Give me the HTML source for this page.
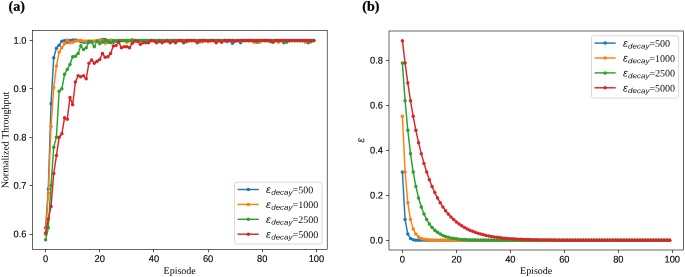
<!DOCTYPE html>
<html><head><meta charset="utf-8"><style>
html,body{margin:0;padding:0;background:#fff;}
svg{display:block;will-change:transform;}
.tk{font-family:"Liberation Sans",sans-serif;font-size:9.30px;fill:#000;stroke:#000;stroke-width:0.12px;}
.lab{font-family:"Liberation Serif",serif;font-size:10px;fill:#000;}
.ttl{font-family:"Liberation Serif",serif;font-size:14px;font-weight:bold;fill:#000;stroke:#000;stroke-width:0.25px;}
.eps{font-family:"Liberation Sans",sans-serif;font-style:italic;font-size:10.5px;fill:#111;}
.epsl{font-family:"Liberation Sans",sans-serif;font-style:italic;font-size:11px;fill:#111;}
.sub{font-family:"Liberation Sans",sans-serif;font-style:italic;font-size:7.2px;fill:#111;}
.lg{font-family:"Liberation Serif",serif;font-size:10px;fill:#111;}
</style></head><body>
<svg width="685" height="277" viewBox="0 0 685 277">
<rect width="685" height="277" fill="#fff"/>
<polyline points="45.60,227.71 48.31,188.99 51.02,103.80 53.72,57.82 56.43,48.14 59.14,45.24 61.85,41.37 64.56,40.40 67.26,42.34 69.97,40.40 72.68,39.92 75.39,39.92 78.10,40.40 80.80,41.85 83.51,42.34 86.22,42.34 88.93,42.34 91.64,41.85 94.34,41.37 97.05,40.88 99.76,40.40 102.47,39.43 105.18,39.43 107.88,42.34 110.59,42.34 113.30,42.34 116.01,40.40 118.72,40.40 121.42,40.40 124.13,40.40 126.84,41.37 129.55,40.40 132.26,40.40 134.96,40.40 137.67,40.40 140.38,40.40 143.09,40.40 145.80,40.40 148.50,40.40 151.21,40.40 153.92,40.40 156.63,41.37 159.34,40.40 162.04,40.40 164.75,40.40 167.46,40.40 170.17,40.40 172.88,40.40 175.58,40.40 178.29,40.40 181.00,40.40 183.71,40.40 186.42,41.85 189.12,40.40 191.83,40.40 194.54,40.40 197.25,40.40 199.96,41.85 202.66,40.40 205.37,40.40 208.08,40.40 210.79,40.40 213.50,40.40 216.20,40.40 218.91,40.40 221.62,40.40 224.33,40.40 227.04,41.85 229.74,40.40 232.45,43.30 235.16,40.40 237.87,40.40 240.58,42.82 243.28,40.40 245.99,40.40 248.70,40.40 251.41,40.40 254.12,40.40 256.82,40.40 259.53,40.40 262.24,40.40 264.95,40.40 267.66,40.40 270.36,40.40 273.07,40.40 275.78,40.40 278.49,40.40 281.20,40.40 283.90,42.82 286.61,40.40 289.32,40.40 292.03,40.40 294.74,40.40 297.44,40.40 300.15,40.40 302.86,40.40 305.57,40.40 308.28,42.82 310.98,40.40 313.69,40.40" fill="none" stroke="#1f77b4" stroke-width="1.45" stroke-linejoin="round"/>
<g fill="#1f77b4"><circle cx="45.60" cy="227.71" r="1.75"/><circle cx="48.31" cy="188.99" r="1.75"/><circle cx="51.02" cy="103.80" r="1.75"/><circle cx="53.72" cy="57.82" r="1.75"/><circle cx="56.43" cy="48.14" r="1.75"/><circle cx="59.14" cy="45.24" r="1.75"/><circle cx="61.85" cy="41.37" r="1.75"/><circle cx="64.56" cy="40.40" r="1.75"/><circle cx="67.26" cy="42.34" r="1.75"/><circle cx="69.97" cy="40.40" r="1.75"/><circle cx="72.68" cy="39.92" r="1.75"/><circle cx="75.39" cy="39.92" r="1.75"/><circle cx="78.10" cy="40.40" r="1.75"/><circle cx="80.80" cy="41.85" r="1.75"/><circle cx="83.51" cy="42.34" r="1.75"/><circle cx="86.22" cy="42.34" r="1.75"/><circle cx="88.93" cy="42.34" r="1.75"/><circle cx="91.64" cy="41.85" r="1.75"/><circle cx="94.34" cy="41.37" r="1.75"/><circle cx="97.05" cy="40.88" r="1.75"/><circle cx="99.76" cy="40.40" r="1.75"/><circle cx="102.47" cy="39.43" r="1.75"/><circle cx="105.18" cy="39.43" r="1.75"/><circle cx="107.88" cy="42.34" r="1.75"/><circle cx="110.59" cy="42.34" r="1.75"/><circle cx="113.30" cy="42.34" r="1.75"/><circle cx="116.01" cy="40.40" r="1.75"/><circle cx="118.72" cy="40.40" r="1.75"/><circle cx="121.42" cy="40.40" r="1.75"/><circle cx="124.13" cy="40.40" r="1.75"/><circle cx="126.84" cy="41.37" r="1.75"/><circle cx="129.55" cy="40.40" r="1.75"/><circle cx="132.26" cy="40.40" r="1.75"/><circle cx="134.96" cy="40.40" r="1.75"/><circle cx="137.67" cy="40.40" r="1.75"/><circle cx="140.38" cy="40.40" r="1.75"/><circle cx="143.09" cy="40.40" r="1.75"/><circle cx="145.80" cy="40.40" r="1.75"/><circle cx="148.50" cy="40.40" r="1.75"/><circle cx="151.21" cy="40.40" r="1.75"/><circle cx="153.92" cy="40.40" r="1.75"/><circle cx="156.63" cy="41.37" r="1.75"/><circle cx="159.34" cy="40.40" r="1.75"/><circle cx="162.04" cy="40.40" r="1.75"/><circle cx="164.75" cy="40.40" r="1.75"/><circle cx="167.46" cy="40.40" r="1.75"/><circle cx="170.17" cy="40.40" r="1.75"/><circle cx="172.88" cy="40.40" r="1.75"/><circle cx="175.58" cy="40.40" r="1.75"/><circle cx="178.29" cy="40.40" r="1.75"/><circle cx="181.00" cy="40.40" r="1.75"/><circle cx="183.71" cy="40.40" r="1.75"/><circle cx="186.42" cy="41.85" r="1.75"/><circle cx="189.12" cy="40.40" r="1.75"/><circle cx="191.83" cy="40.40" r="1.75"/><circle cx="194.54" cy="40.40" r="1.75"/><circle cx="197.25" cy="40.40" r="1.75"/><circle cx="199.96" cy="41.85" r="1.75"/><circle cx="202.66" cy="40.40" r="1.75"/><circle cx="205.37" cy="40.40" r="1.75"/><circle cx="208.08" cy="40.40" r="1.75"/><circle cx="210.79" cy="40.40" r="1.75"/><circle cx="213.50" cy="40.40" r="1.75"/><circle cx="216.20" cy="40.40" r="1.75"/><circle cx="218.91" cy="40.40" r="1.75"/><circle cx="221.62" cy="40.40" r="1.75"/><circle cx="224.33" cy="40.40" r="1.75"/><circle cx="227.04" cy="41.85" r="1.75"/><circle cx="229.74" cy="40.40" r="1.75"/><circle cx="232.45" cy="43.30" r="1.75"/><circle cx="235.16" cy="40.40" r="1.75"/><circle cx="237.87" cy="40.40" r="1.75"/><circle cx="240.58" cy="42.82" r="1.75"/><circle cx="243.28" cy="40.40" r="1.75"/><circle cx="245.99" cy="40.40" r="1.75"/><circle cx="248.70" cy="40.40" r="1.75"/><circle cx="251.41" cy="40.40" r="1.75"/><circle cx="254.12" cy="40.40" r="1.75"/><circle cx="256.82" cy="40.40" r="1.75"/><circle cx="259.53" cy="40.40" r="1.75"/><circle cx="262.24" cy="40.40" r="1.75"/><circle cx="264.95" cy="40.40" r="1.75"/><circle cx="267.66" cy="40.40" r="1.75"/><circle cx="270.36" cy="40.40" r="1.75"/><circle cx="273.07" cy="40.40" r="1.75"/><circle cx="275.78" cy="40.40" r="1.75"/><circle cx="278.49" cy="40.40" r="1.75"/><circle cx="281.20" cy="40.40" r="1.75"/><circle cx="283.90" cy="42.82" r="1.75"/><circle cx="286.61" cy="40.40" r="1.75"/><circle cx="289.32" cy="40.40" r="1.75"/><circle cx="292.03" cy="40.40" r="1.75"/><circle cx="294.74" cy="40.40" r="1.75"/><circle cx="297.44" cy="40.40" r="1.75"/><circle cx="300.15" cy="40.40" r="1.75"/><circle cx="302.86" cy="40.40" r="1.75"/><circle cx="305.57" cy="40.40" r="1.75"/><circle cx="308.28" cy="42.82" r="1.75"/><circle cx="310.98" cy="40.40" r="1.75"/><circle cx="313.69" cy="40.40" r="1.75"/></g>
<polyline points="45.60,234.48 48.31,193.34 51.02,126.55 53.72,87.83 56.43,66.05 59.14,52.02 61.85,47.66 64.56,43.79 67.26,39.92 69.97,42.82 72.68,42.34 75.39,41.37 78.10,40.40 80.80,40.40 83.51,40.88 86.22,40.88 88.93,40.88 91.64,40.88 94.34,40.88 97.05,40.88 99.76,39.92 102.47,40.64 105.18,43.30 107.88,40.64 110.59,39.92 113.30,40.64 116.01,40.64 118.72,40.64 121.42,40.64 124.13,40.64 126.84,42.34 129.55,40.64 132.26,39.43 134.96,40.64 137.67,40.64 140.38,40.64 143.09,40.64 145.80,40.64 148.50,40.64 151.21,40.64 153.92,40.64 156.63,40.64 159.34,40.64 162.04,40.64 164.75,40.64 167.46,40.64 170.17,40.64 172.88,40.64 175.58,42.34 178.29,40.64 181.00,40.64 183.71,42.34 186.42,40.64 189.12,40.64 191.83,40.64 194.54,40.64 197.25,40.64 199.96,40.64 202.66,41.85 205.37,40.64 208.08,40.64 210.79,40.64 213.50,40.64 216.20,40.64 218.91,40.64 221.62,40.64 224.33,40.64 227.04,40.64 229.74,40.64 232.45,40.64 235.16,40.64 237.87,40.64 240.58,40.64 243.28,40.64 245.99,40.64 248.70,40.64 251.41,40.64 254.12,42.34 256.82,40.64 259.53,42.34 262.24,40.64 264.95,40.64 267.66,40.64 270.36,40.64 273.07,40.64 275.78,40.64 278.49,42.34 281.20,40.64 283.90,40.64 286.61,40.64 289.32,40.64 292.03,40.64 294.74,40.64 297.44,40.64 300.15,40.64 302.86,40.64 305.57,42.34 308.28,40.64 310.98,40.64 313.69,40.64" fill="none" stroke="#ff7f0e" stroke-width="1.45" stroke-linejoin="round"/>
<g fill="#ff7f0e"><circle cx="45.60" cy="234.48" r="1.75"/><circle cx="48.31" cy="193.34" r="1.75"/><circle cx="51.02" cy="126.55" r="1.75"/><circle cx="53.72" cy="87.83" r="1.75"/><circle cx="56.43" cy="66.05" r="1.75"/><circle cx="59.14" cy="52.02" r="1.75"/><circle cx="61.85" cy="47.66" r="1.75"/><circle cx="64.56" cy="43.79" r="1.75"/><circle cx="67.26" cy="39.92" r="1.75"/><circle cx="69.97" cy="42.82" r="1.75"/><circle cx="72.68" cy="42.34" r="1.75"/><circle cx="75.39" cy="41.37" r="1.75"/><circle cx="78.10" cy="40.40" r="1.75"/><circle cx="80.80" cy="40.40" r="1.75"/><circle cx="83.51" cy="40.88" r="1.75"/><circle cx="86.22" cy="40.88" r="1.75"/><circle cx="88.93" cy="40.88" r="1.75"/><circle cx="91.64" cy="40.88" r="1.75"/><circle cx="94.34" cy="40.88" r="1.75"/><circle cx="97.05" cy="40.88" r="1.75"/><circle cx="99.76" cy="39.92" r="1.75"/><circle cx="102.47" cy="40.64" r="1.75"/><circle cx="105.18" cy="43.30" r="1.75"/><circle cx="107.88" cy="40.64" r="1.75"/><circle cx="110.59" cy="39.92" r="1.75"/><circle cx="113.30" cy="40.64" r="1.75"/><circle cx="116.01" cy="40.64" r="1.75"/><circle cx="118.72" cy="40.64" r="1.75"/><circle cx="121.42" cy="40.64" r="1.75"/><circle cx="124.13" cy="40.64" r="1.75"/><circle cx="126.84" cy="42.34" r="1.75"/><circle cx="129.55" cy="40.64" r="1.75"/><circle cx="132.26" cy="39.43" r="1.75"/><circle cx="134.96" cy="40.64" r="1.75"/><circle cx="137.67" cy="40.64" r="1.75"/><circle cx="140.38" cy="40.64" r="1.75"/><circle cx="143.09" cy="40.64" r="1.75"/><circle cx="145.80" cy="40.64" r="1.75"/><circle cx="148.50" cy="40.64" r="1.75"/><circle cx="151.21" cy="40.64" r="1.75"/><circle cx="153.92" cy="40.64" r="1.75"/><circle cx="156.63" cy="40.64" r="1.75"/><circle cx="159.34" cy="40.64" r="1.75"/><circle cx="162.04" cy="40.64" r="1.75"/><circle cx="164.75" cy="40.64" r="1.75"/><circle cx="167.46" cy="40.64" r="1.75"/><circle cx="170.17" cy="40.64" r="1.75"/><circle cx="172.88" cy="40.64" r="1.75"/><circle cx="175.58" cy="42.34" r="1.75"/><circle cx="178.29" cy="40.64" r="1.75"/><circle cx="181.00" cy="40.64" r="1.75"/><circle cx="183.71" cy="42.34" r="1.75"/><circle cx="186.42" cy="40.64" r="1.75"/><circle cx="189.12" cy="40.64" r="1.75"/><circle cx="191.83" cy="40.64" r="1.75"/><circle cx="194.54" cy="40.64" r="1.75"/><circle cx="197.25" cy="40.64" r="1.75"/><circle cx="199.96" cy="40.64" r="1.75"/><circle cx="202.66" cy="41.85" r="1.75"/><circle cx="205.37" cy="40.64" r="1.75"/><circle cx="208.08" cy="40.64" r="1.75"/><circle cx="210.79" cy="40.64" r="1.75"/><circle cx="213.50" cy="40.64" r="1.75"/><circle cx="216.20" cy="40.64" r="1.75"/><circle cx="218.91" cy="40.64" r="1.75"/><circle cx="221.62" cy="40.64" r="1.75"/><circle cx="224.33" cy="40.64" r="1.75"/><circle cx="227.04" cy="40.64" r="1.75"/><circle cx="229.74" cy="40.64" r="1.75"/><circle cx="232.45" cy="40.64" r="1.75"/><circle cx="235.16" cy="40.64" r="1.75"/><circle cx="237.87" cy="40.64" r="1.75"/><circle cx="240.58" cy="40.64" r="1.75"/><circle cx="243.28" cy="40.64" r="1.75"/><circle cx="245.99" cy="40.64" r="1.75"/><circle cx="248.70" cy="40.64" r="1.75"/><circle cx="251.41" cy="40.64" r="1.75"/><circle cx="254.12" cy="42.34" r="1.75"/><circle cx="256.82" cy="40.64" r="1.75"/><circle cx="259.53" cy="42.34" r="1.75"/><circle cx="262.24" cy="40.64" r="1.75"/><circle cx="264.95" cy="40.64" r="1.75"/><circle cx="267.66" cy="40.64" r="1.75"/><circle cx="270.36" cy="40.64" r="1.75"/><circle cx="273.07" cy="40.64" r="1.75"/><circle cx="275.78" cy="40.64" r="1.75"/><circle cx="278.49" cy="42.34" r="1.75"/><circle cx="281.20" cy="40.64" r="1.75"/><circle cx="283.90" cy="40.64" r="1.75"/><circle cx="286.61" cy="40.64" r="1.75"/><circle cx="289.32" cy="40.64" r="1.75"/><circle cx="292.03" cy="40.64" r="1.75"/><circle cx="294.74" cy="40.64" r="1.75"/><circle cx="297.44" cy="40.64" r="1.75"/><circle cx="300.15" cy="40.64" r="1.75"/><circle cx="302.86" cy="40.64" r="1.75"/><circle cx="305.57" cy="42.34" r="1.75"/><circle cx="308.28" cy="40.64" r="1.75"/><circle cx="310.98" cy="40.64" r="1.75"/><circle cx="313.69" cy="40.64" r="1.75"/></g>
<polyline points="45.60,239.81 48.31,227.71 51.02,185.60 53.72,147.36 56.43,137.20 59.14,91.22 61.85,88.80 64.56,74.28 67.26,69.44 69.97,64.60 72.68,56.86 75.39,56.37 78.10,53.47 80.80,45.72 83.51,49.60 86.22,47.66 88.93,41.61 91.64,42.09 94.34,46.69 97.05,41.03 99.76,43.79 102.47,42.09 105.18,40.88 107.88,40.40 110.59,42.82 113.30,40.40 116.01,41.37 118.72,40.40 121.42,40.40 124.13,40.40 126.84,40.40 129.55,40.40 132.26,40.40 134.96,40.40 137.67,40.40 140.38,40.40 143.09,40.40 145.80,40.40 148.50,40.40 151.21,40.40 153.92,40.40 156.63,40.40 159.34,40.40 162.04,40.40 164.75,41.37 167.46,40.40 170.17,40.40 172.88,40.40 175.58,40.40 178.29,40.40 181.00,40.40 183.71,40.40 186.42,40.40 189.12,40.40 191.83,40.40 194.54,40.40 197.25,40.40 199.96,40.40 202.66,40.40 205.37,40.40 208.08,40.40 210.79,40.40 213.50,40.40 216.20,40.40 218.91,40.40 221.62,40.40 224.33,40.40 227.04,40.40 229.74,40.40 232.45,40.40 235.16,40.40 237.87,40.40 240.58,40.40 243.28,40.40 245.99,40.40 248.70,40.40 251.41,40.40 254.12,40.40 256.82,42.34 259.53,40.40 262.24,40.40 264.95,40.40 267.66,40.40 270.36,41.85 273.07,40.40 275.78,40.40 278.49,40.40 281.20,40.40 283.90,40.40 286.61,42.34 289.32,40.40 292.03,40.40 294.74,40.40 297.44,40.40 300.15,40.40 302.86,40.40 305.57,40.40 308.28,40.40 310.98,41.85 313.69,40.40" fill="none" stroke="#2ca02c" stroke-width="1.45" stroke-linejoin="round"/>
<g fill="#2ca02c"><circle cx="45.60" cy="239.81" r="1.75"/><circle cx="48.31" cy="227.71" r="1.75"/><circle cx="51.02" cy="185.60" r="1.75"/><circle cx="53.72" cy="147.36" r="1.75"/><circle cx="56.43" cy="137.20" r="1.75"/><circle cx="59.14" cy="91.22" r="1.75"/><circle cx="61.85" cy="88.80" r="1.75"/><circle cx="64.56" cy="74.28" r="1.75"/><circle cx="67.26" cy="69.44" r="1.75"/><circle cx="69.97" cy="64.60" r="1.75"/><circle cx="72.68" cy="56.86" r="1.75"/><circle cx="75.39" cy="56.37" r="1.75"/><circle cx="78.10" cy="53.47" r="1.75"/><circle cx="80.80" cy="45.72" r="1.75"/><circle cx="83.51" cy="49.60" r="1.75"/><circle cx="86.22" cy="47.66" r="1.75"/><circle cx="88.93" cy="41.61" r="1.75"/><circle cx="91.64" cy="42.09" r="1.75"/><circle cx="94.34" cy="46.69" r="1.75"/><circle cx="97.05" cy="41.03" r="1.75"/><circle cx="99.76" cy="43.79" r="1.75"/><circle cx="102.47" cy="42.09" r="1.75"/><circle cx="105.18" cy="40.88" r="1.75"/><circle cx="107.88" cy="40.40" r="1.75"/><circle cx="110.59" cy="42.82" r="1.75"/><circle cx="113.30" cy="40.40" r="1.75"/><circle cx="116.01" cy="41.37" r="1.75"/><circle cx="118.72" cy="40.40" r="1.75"/><circle cx="121.42" cy="40.40" r="1.75"/><circle cx="124.13" cy="40.40" r="1.75"/><circle cx="126.84" cy="40.40" r="1.75"/><circle cx="129.55" cy="40.40" r="1.75"/><circle cx="132.26" cy="40.40" r="1.75"/><circle cx="134.96" cy="40.40" r="1.75"/><circle cx="137.67" cy="40.40" r="1.75"/><circle cx="140.38" cy="40.40" r="1.75"/><circle cx="143.09" cy="40.40" r="1.75"/><circle cx="145.80" cy="40.40" r="1.75"/><circle cx="148.50" cy="40.40" r="1.75"/><circle cx="151.21" cy="40.40" r="1.75"/><circle cx="153.92" cy="40.40" r="1.75"/><circle cx="156.63" cy="40.40" r="1.75"/><circle cx="159.34" cy="40.40" r="1.75"/><circle cx="162.04" cy="40.40" r="1.75"/><circle cx="164.75" cy="41.37" r="1.75"/><circle cx="167.46" cy="40.40" r="1.75"/><circle cx="170.17" cy="40.40" r="1.75"/><circle cx="172.88" cy="40.40" r="1.75"/><circle cx="175.58" cy="40.40" r="1.75"/><circle cx="178.29" cy="40.40" r="1.75"/><circle cx="181.00" cy="40.40" r="1.75"/><circle cx="183.71" cy="40.40" r="1.75"/><circle cx="186.42" cy="40.40" r="1.75"/><circle cx="189.12" cy="40.40" r="1.75"/><circle cx="191.83" cy="40.40" r="1.75"/><circle cx="194.54" cy="40.40" r="1.75"/><circle cx="197.25" cy="40.40" r="1.75"/><circle cx="199.96" cy="40.40" r="1.75"/><circle cx="202.66" cy="40.40" r="1.75"/><circle cx="205.37" cy="40.40" r="1.75"/><circle cx="208.08" cy="40.40" r="1.75"/><circle cx="210.79" cy="40.40" r="1.75"/><circle cx="213.50" cy="40.40" r="1.75"/><circle cx="216.20" cy="40.40" r="1.75"/><circle cx="218.91" cy="40.40" r="1.75"/><circle cx="221.62" cy="40.40" r="1.75"/><circle cx="224.33" cy="40.40" r="1.75"/><circle cx="227.04" cy="40.40" r="1.75"/><circle cx="229.74" cy="40.40" r="1.75"/><circle cx="232.45" cy="40.40" r="1.75"/><circle cx="235.16" cy="40.40" r="1.75"/><circle cx="237.87" cy="40.40" r="1.75"/><circle cx="240.58" cy="40.40" r="1.75"/><circle cx="243.28" cy="40.40" r="1.75"/><circle cx="245.99" cy="40.40" r="1.75"/><circle cx="248.70" cy="40.40" r="1.75"/><circle cx="251.41" cy="40.40" r="1.75"/><circle cx="254.12" cy="40.40" r="1.75"/><circle cx="256.82" cy="42.34" r="1.75"/><circle cx="259.53" cy="40.40" r="1.75"/><circle cx="262.24" cy="40.40" r="1.75"/><circle cx="264.95" cy="40.40" r="1.75"/><circle cx="267.66" cy="40.40" r="1.75"/><circle cx="270.36" cy="41.85" r="1.75"/><circle cx="273.07" cy="40.40" r="1.75"/><circle cx="275.78" cy="40.40" r="1.75"/><circle cx="278.49" cy="40.40" r="1.75"/><circle cx="281.20" cy="40.40" r="1.75"/><circle cx="283.90" cy="40.40" r="1.75"/><circle cx="286.61" cy="42.34" r="1.75"/><circle cx="289.32" cy="40.40" r="1.75"/><circle cx="292.03" cy="40.40" r="1.75"/><circle cx="294.74" cy="40.40" r="1.75"/><circle cx="297.44" cy="40.40" r="1.75"/><circle cx="300.15" cy="40.40" r="1.75"/><circle cx="302.86" cy="40.40" r="1.75"/><circle cx="305.57" cy="40.40" r="1.75"/><circle cx="308.28" cy="40.40" r="1.75"/><circle cx="310.98" cy="41.85" r="1.75"/><circle cx="313.69" cy="40.40" r="1.75"/></g>
<polyline points="45.60,233.03 48.31,219.00 51.02,206.41 53.72,173.50 56.43,155.59 59.14,137.20 61.85,133.81 64.56,117.84 67.26,119.29 69.97,97.51 72.68,104.77 75.39,82.02 78.10,75.73 80.80,76.70 83.51,75.73 86.22,78.64 88.93,63.15 91.64,60.00 94.34,63.15 97.05,61.21 99.76,59.52 102.47,53.47 105.18,57.34 107.88,56.86 110.59,53.47 113.30,45.92 116.01,45.39 118.72,42.09 121.42,47.66 124.13,46.69 126.84,46.69 129.55,47.66 132.26,43.30 134.96,41.03 137.67,41.56 140.38,44.27 143.09,42.82 145.80,42.82 148.50,42.82 151.21,40.40 153.92,40.88 156.63,42.82 159.34,41.37 162.04,42.82 164.75,40.88 167.46,40.88 170.17,42.82 172.88,40.88 175.58,42.82 178.29,40.40 181.00,40.40 183.71,42.82 186.42,40.40 189.12,40.40 191.83,40.40 194.54,40.40 197.25,42.82 199.96,40.40 202.66,40.40 205.37,40.40 208.08,41.37 210.79,40.40 213.50,40.40 216.20,42.82 218.91,40.40 221.62,42.34 224.33,40.40 227.04,40.40 229.74,40.40 232.45,40.40 235.16,41.37 237.87,40.40 240.58,40.40 243.28,40.40 245.99,40.40 248.70,40.40 251.41,40.40 254.12,40.40 256.82,40.40 259.53,40.40 262.24,40.40 264.95,40.40 267.66,40.40 270.36,40.40 273.07,42.34 275.78,40.40 278.49,40.40 281.20,40.40 283.90,40.40 286.61,40.40 289.32,40.40 292.03,40.40 294.74,40.40 297.44,40.40 300.15,40.40 302.86,40.40 305.57,40.40 308.28,40.40 310.98,40.40 313.69,40.40" fill="none" stroke="#d62728" stroke-width="1.45" stroke-linejoin="round"/>
<g fill="#d62728"><circle cx="45.60" cy="233.03" r="1.75"/><circle cx="48.31" cy="219.00" r="1.75"/><circle cx="51.02" cy="206.41" r="1.75"/><circle cx="53.72" cy="173.50" r="1.75"/><circle cx="56.43" cy="155.59" r="1.75"/><circle cx="59.14" cy="137.20" r="1.75"/><circle cx="61.85" cy="133.81" r="1.75"/><circle cx="64.56" cy="117.84" r="1.75"/><circle cx="67.26" cy="119.29" r="1.75"/><circle cx="69.97" cy="97.51" r="1.75"/><circle cx="72.68" cy="104.77" r="1.75"/><circle cx="75.39" cy="82.02" r="1.75"/><circle cx="78.10" cy="75.73" r="1.75"/><circle cx="80.80" cy="76.70" r="1.75"/><circle cx="83.51" cy="75.73" r="1.75"/><circle cx="86.22" cy="78.64" r="1.75"/><circle cx="88.93" cy="63.15" r="1.75"/><circle cx="91.64" cy="60.00" r="1.75"/><circle cx="94.34" cy="63.15" r="1.75"/><circle cx="97.05" cy="61.21" r="1.75"/><circle cx="99.76" cy="59.52" r="1.75"/><circle cx="102.47" cy="53.47" r="1.75"/><circle cx="105.18" cy="57.34" r="1.75"/><circle cx="107.88" cy="56.86" r="1.75"/><circle cx="110.59" cy="53.47" r="1.75"/><circle cx="113.30" cy="45.92" r="1.75"/><circle cx="116.01" cy="45.39" r="1.75"/><circle cx="118.72" cy="42.09" r="1.75"/><circle cx="121.42" cy="47.66" r="1.75"/><circle cx="124.13" cy="46.69" r="1.75"/><circle cx="126.84" cy="46.69" r="1.75"/><circle cx="129.55" cy="47.66" r="1.75"/><circle cx="132.26" cy="43.30" r="1.75"/><circle cx="134.96" cy="41.03" r="1.75"/><circle cx="137.67" cy="41.56" r="1.75"/><circle cx="140.38" cy="44.27" r="1.75"/><circle cx="143.09" cy="42.82" r="1.75"/><circle cx="145.80" cy="42.82" r="1.75"/><circle cx="148.50" cy="42.82" r="1.75"/><circle cx="151.21" cy="40.40" r="1.75"/><circle cx="153.92" cy="40.88" r="1.75"/><circle cx="156.63" cy="42.82" r="1.75"/><circle cx="159.34" cy="41.37" r="1.75"/><circle cx="162.04" cy="42.82" r="1.75"/><circle cx="164.75" cy="40.88" r="1.75"/><circle cx="167.46" cy="40.88" r="1.75"/><circle cx="170.17" cy="42.82" r="1.75"/><circle cx="172.88" cy="40.88" r="1.75"/><circle cx="175.58" cy="42.82" r="1.75"/><circle cx="178.29" cy="40.40" r="1.75"/><circle cx="181.00" cy="40.40" r="1.75"/><circle cx="183.71" cy="42.82" r="1.75"/><circle cx="186.42" cy="40.40" r="1.75"/><circle cx="189.12" cy="40.40" r="1.75"/><circle cx="191.83" cy="40.40" r="1.75"/><circle cx="194.54" cy="40.40" r="1.75"/><circle cx="197.25" cy="42.82" r="1.75"/><circle cx="199.96" cy="40.40" r="1.75"/><circle cx="202.66" cy="40.40" r="1.75"/><circle cx="205.37" cy="40.40" r="1.75"/><circle cx="208.08" cy="41.37" r="1.75"/><circle cx="210.79" cy="40.40" r="1.75"/><circle cx="213.50" cy="40.40" r="1.75"/><circle cx="216.20" cy="42.82" r="1.75"/><circle cx="218.91" cy="40.40" r="1.75"/><circle cx="221.62" cy="42.34" r="1.75"/><circle cx="224.33" cy="40.40" r="1.75"/><circle cx="227.04" cy="40.40" r="1.75"/><circle cx="229.74" cy="40.40" r="1.75"/><circle cx="232.45" cy="40.40" r="1.75"/><circle cx="235.16" cy="41.37" r="1.75"/><circle cx="237.87" cy="40.40" r="1.75"/><circle cx="240.58" cy="40.40" r="1.75"/><circle cx="243.28" cy="40.40" r="1.75"/><circle cx="245.99" cy="40.40" r="1.75"/><circle cx="248.70" cy="40.40" r="1.75"/><circle cx="251.41" cy="40.40" r="1.75"/><circle cx="254.12" cy="40.40" r="1.75"/><circle cx="256.82" cy="40.40" r="1.75"/><circle cx="259.53" cy="40.40" r="1.75"/><circle cx="262.24" cy="40.40" r="1.75"/><circle cx="264.95" cy="40.40" r="1.75"/><circle cx="267.66" cy="40.40" r="1.75"/><circle cx="270.36" cy="40.40" r="1.75"/><circle cx="273.07" cy="42.34" r="1.75"/><circle cx="275.78" cy="40.40" r="1.75"/><circle cx="278.49" cy="40.40" r="1.75"/><circle cx="281.20" cy="40.40" r="1.75"/><circle cx="283.90" cy="40.40" r="1.75"/><circle cx="286.61" cy="40.40" r="1.75"/><circle cx="289.32" cy="40.40" r="1.75"/><circle cx="292.03" cy="40.40" r="1.75"/><circle cx="294.74" cy="40.40" r="1.75"/><circle cx="297.44" cy="40.40" r="1.75"/><circle cx="300.15" cy="40.40" r="1.75"/><circle cx="302.86" cy="40.40" r="1.75"/><circle cx="305.57" cy="40.40" r="1.75"/><circle cx="308.28" cy="40.40" r="1.75"/><circle cx="310.98" cy="40.40" r="1.75"/><circle cx="313.69" cy="40.40" r="1.75"/></g>
<rect x="32.50" y="30.50" width="294.70" height="218.80" fill="none" stroke="#000" stroke-width="0.60"/>
<line x1="45.50" y1="249.30" x2="45.50" y2="252.30" stroke="#000" stroke-width="0.65"/>
<text transform="translate(45.60,261.90) rotate(0.3) scale(1.000,1.040)" text-anchor="middle" class="tk">0</text>
<line x1="99.50" y1="249.30" x2="99.50" y2="252.30" stroke="#000" stroke-width="0.65"/>
<text transform="translate(99.76,261.90) rotate(0.3) scale(1.000,1.040)" text-anchor="middle" class="tk">20</text>
<line x1="153.50" y1="249.30" x2="153.50" y2="252.30" stroke="#000" stroke-width="0.65"/>
<text transform="translate(153.92,261.90) rotate(0.3) scale(1.000,1.040)" text-anchor="middle" class="tk">40</text>
<line x1="208.50" y1="249.30" x2="208.50" y2="252.30" stroke="#000" stroke-width="0.65"/>
<text transform="translate(208.08,261.90) rotate(0.3) scale(1.000,1.040)" text-anchor="middle" class="tk">60</text>
<line x1="262.50" y1="249.30" x2="262.50" y2="252.30" stroke="#000" stroke-width="0.65"/>
<text transform="translate(262.24,261.90) rotate(0.3) scale(1.000,1.040)" text-anchor="middle" class="tk">80</text>
<line x1="316.50" y1="249.30" x2="316.50" y2="252.30" stroke="#000" stroke-width="0.65"/>
<text transform="translate(316.40,261.90) rotate(0.3) scale(1.000,1.040)" text-anchor="middle" class="tk">100</text>
<line x1="29.50" y1="234.50" x2="32.50" y2="234.50" stroke="#000" stroke-width="0.65"/>
<text transform="translate(26.50,237.30) rotate(0.3) scale(1.000,1.040)" text-anchor="end" class="tk">0.6</text>
<line x1="29.50" y1="185.50" x2="32.50" y2="185.50" stroke="#000" stroke-width="0.65"/>
<text transform="translate(26.50,188.90) rotate(0.3) scale(1.000,1.040)" text-anchor="end" class="tk">0.7</text>
<line x1="29.50" y1="137.50" x2="32.50" y2="137.50" stroke="#000" stroke-width="0.65"/>
<text transform="translate(26.50,140.50) rotate(0.3) scale(1.000,1.040)" text-anchor="end" class="tk">0.8</text>
<line x1="29.50" y1="88.50" x2="32.50" y2="88.50" stroke="#000" stroke-width="0.65"/>
<text transform="translate(26.50,92.10) rotate(0.3) scale(1.000,1.040)" text-anchor="end" class="tk">0.9</text>
<line x1="29.50" y1="40.50" x2="32.50" y2="40.50" stroke="#000" stroke-width="0.65"/>
<text transform="translate(26.50,43.70) rotate(0.3) scale(1.000,1.040)" text-anchor="end" class="tk">1.0</text>
<rect x="234.60" y="182.20" width="87.40" height="61.80" rx="2" ry="2" fill="#fff" fill-opacity="0.8" stroke="#d6d6d6" stroke-width="0.9"/>
<line x1="237.60" y1="189.50" x2="258.80" y2="189.50" stroke="#1f77b4" stroke-width="1.45"/>
<circle cx="248.30" cy="189.50" r="1.75" fill="#1f77b4"/>
<text transform="translate(266.00,193.10) rotate(0.3)" class="eps">&#949;</text>
<text transform="translate(271.20,194.80) rotate(0.3)" class="sub" textLength="21.3" lengthAdjust="spacingAndGlyphs">decay</text>
<text transform="translate(292.50,193.10) rotate(0.3)" class="lg">=500</text>
<line x1="237.60" y1="204.40" x2="258.80" y2="204.40" stroke="#ff7f0e" stroke-width="1.45"/>
<circle cx="248.30" cy="204.40" r="1.75" fill="#ff7f0e"/>
<text transform="translate(266.00,208.00) rotate(0.3)" class="eps">&#949;</text>
<text transform="translate(271.20,209.70) rotate(0.3)" class="sub" textLength="21.3" lengthAdjust="spacingAndGlyphs">decay</text>
<text transform="translate(292.50,208.00) rotate(0.3)" class="lg">=1000</text>
<line x1="237.60" y1="219.30" x2="258.80" y2="219.30" stroke="#2ca02c" stroke-width="1.45"/>
<circle cx="248.30" cy="219.30" r="1.75" fill="#2ca02c"/>
<text transform="translate(266.00,222.90) rotate(0.3)" class="eps">&#949;</text>
<text transform="translate(271.20,224.60) rotate(0.3)" class="sub" textLength="21.3" lengthAdjust="spacingAndGlyphs">decay</text>
<text transform="translate(292.50,222.90) rotate(0.3)" class="lg">=2500</text>
<line x1="237.60" y1="234.20" x2="258.80" y2="234.20" stroke="#d62728" stroke-width="1.45"/>
<circle cx="248.30" cy="234.20" r="1.75" fill="#d62728"/>
<text transform="translate(266.00,237.80) rotate(0.3)" class="eps">&#949;</text>
<text transform="translate(271.20,239.50) rotate(0.3)" class="sub" textLength="21.3" lengthAdjust="spacingAndGlyphs">decay</text>
<text transform="translate(292.50,237.80) rotate(0.3)" class="lg">=5000</text>
<text transform="translate(16.7,10.8) rotate(0.3)" class="ttl" text-anchor="middle">(a)</text>
<text transform="translate(179.7,273.9) rotate(0.3)" class="lab" text-anchor="middle">Episode</text>
<text transform="translate(8.5,140.0) rotate(-89.7)" class="lab" text-anchor="middle">Normalized Throughput</text>
<polyline points="402.40,172.04 405.10,219.61 407.80,234.05 410.50,238.44 413.20,239.77 415.89,240.17 418.59,240.30 421.29,240.33 423.99,240.35 426.69,240.35 429.39,240.35 432.09,240.35 434.79,240.35 437.49,240.35 440.19,240.35 442.88,240.35 445.58,240.35 448.28,240.35 450.98,240.35 453.68,240.35 456.38,240.35 459.08,240.35 461.78,240.35 464.48,240.35 467.18,240.35 469.88,240.35 472.57,240.35 475.27,240.35 477.97,240.35 480.67,240.35 483.37,240.35 486.07,240.35 488.77,240.35 491.47,240.35 494.17,240.35 496.86,240.35 499.56,240.35 502.26,240.35 504.96,240.35 507.66,240.35 510.36,240.35 513.06,240.35 515.76,240.35 518.46,240.35 521.16,240.35 523.86,240.35 526.55,240.35 529.25,240.35 531.95,240.35 534.65,240.35 537.35,240.35 540.05,240.35 542.75,240.35 545.45,240.35 548.15,240.35 550.85,240.35 553.54,240.35 556.24,240.35 558.94,240.35 561.64,240.35 564.34,240.35 567.04,240.35 569.74,240.35 572.44,240.35 575.14,240.35 577.84,240.35 580.53,240.35 583.23,240.35 585.93,240.35 588.63,240.35 591.33,240.35 594.03,240.35 596.73,240.35 599.43,240.35 602.13,240.35 604.82,240.35 607.52,240.35 610.22,240.35 612.92,240.35 615.62,240.35 618.32,240.35 621.02,240.35 623.72,240.35 626.42,240.35 629.12,240.35 631.81,240.35 634.51,240.35 637.21,240.35 639.91,240.35 642.61,240.35 645.31,240.35 648.01,240.35 650.71,240.35 653.41,240.35 656.11,240.35 658.80,240.35 661.50,240.35 664.20,240.35 666.90,240.35 669.60,240.35" fill="none" stroke="#1f77b4" stroke-width="1.45" stroke-linejoin="round"/>
<g fill="#1f77b4"><circle cx="402.40" cy="172.04" r="1.75"/><circle cx="405.10" cy="219.61" r="1.75"/><circle cx="407.80" cy="234.05" r="1.75"/><circle cx="410.50" cy="238.44" r="1.75"/><circle cx="413.20" cy="239.77" r="1.75"/><circle cx="415.89" cy="240.17" r="1.75"/><circle cx="418.59" cy="240.30" r="1.75"/><circle cx="421.29" cy="240.33" r="1.75"/><circle cx="423.99" cy="240.35" r="1.75"/><circle cx="426.69" cy="240.35" r="1.75"/><circle cx="429.39" cy="240.35" r="1.75"/><circle cx="432.09" cy="240.35" r="1.75"/><circle cx="434.79" cy="240.35" r="1.75"/><circle cx="437.49" cy="240.35" r="1.75"/><circle cx="440.19" cy="240.35" r="1.75"/><circle cx="442.88" cy="240.35" r="1.75"/><circle cx="445.58" cy="240.35" r="1.75"/><circle cx="448.28" cy="240.35" r="1.75"/><circle cx="450.98" cy="240.35" r="1.75"/><circle cx="453.68" cy="240.35" r="1.75"/><circle cx="456.38" cy="240.35" r="1.75"/><circle cx="459.08" cy="240.35" r="1.75"/><circle cx="461.78" cy="240.35" r="1.75"/><circle cx="464.48" cy="240.35" r="1.75"/><circle cx="467.18" cy="240.35" r="1.75"/><circle cx="469.88" cy="240.35" r="1.75"/><circle cx="472.57" cy="240.35" r="1.75"/><circle cx="475.27" cy="240.35" r="1.75"/><circle cx="477.97" cy="240.35" r="1.75"/><circle cx="480.67" cy="240.35" r="1.75"/><circle cx="483.37" cy="240.35" r="1.75"/><circle cx="486.07" cy="240.35" r="1.75"/><circle cx="488.77" cy="240.35" r="1.75"/><circle cx="491.47" cy="240.35" r="1.75"/><circle cx="494.17" cy="240.35" r="1.75"/><circle cx="496.86" cy="240.35" r="1.75"/><circle cx="499.56" cy="240.35" r="1.75"/><circle cx="502.26" cy="240.35" r="1.75"/><circle cx="504.96" cy="240.35" r="1.75"/><circle cx="507.66" cy="240.35" r="1.75"/><circle cx="510.36" cy="240.35" r="1.75"/><circle cx="513.06" cy="240.35" r="1.75"/><circle cx="515.76" cy="240.35" r="1.75"/><circle cx="518.46" cy="240.35" r="1.75"/><circle cx="521.16" cy="240.35" r="1.75"/><circle cx="523.86" cy="240.35" r="1.75"/><circle cx="526.55" cy="240.35" r="1.75"/><circle cx="529.25" cy="240.35" r="1.75"/><circle cx="531.95" cy="240.35" r="1.75"/><circle cx="534.65" cy="240.35" r="1.75"/><circle cx="537.35" cy="240.35" r="1.75"/><circle cx="540.05" cy="240.35" r="1.75"/><circle cx="542.75" cy="240.35" r="1.75"/><circle cx="545.45" cy="240.35" r="1.75"/><circle cx="548.15" cy="240.35" r="1.75"/><circle cx="550.85" cy="240.35" r="1.75"/><circle cx="553.54" cy="240.35" r="1.75"/><circle cx="556.24" cy="240.35" r="1.75"/><circle cx="558.94" cy="240.35" r="1.75"/><circle cx="561.64" cy="240.35" r="1.75"/><circle cx="564.34" cy="240.35" r="1.75"/><circle cx="567.04" cy="240.35" r="1.75"/><circle cx="569.74" cy="240.35" r="1.75"/><circle cx="572.44" cy="240.35" r="1.75"/><circle cx="575.14" cy="240.35" r="1.75"/><circle cx="577.84" cy="240.35" r="1.75"/><circle cx="580.53" cy="240.35" r="1.75"/><circle cx="583.23" cy="240.35" r="1.75"/><circle cx="585.93" cy="240.35" r="1.75"/><circle cx="588.63" cy="240.35" r="1.75"/><circle cx="591.33" cy="240.35" r="1.75"/><circle cx="594.03" cy="240.35" r="1.75"/><circle cx="596.73" cy="240.35" r="1.75"/><circle cx="599.43" cy="240.35" r="1.75"/><circle cx="602.13" cy="240.35" r="1.75"/><circle cx="604.82" cy="240.35" r="1.75"/><circle cx="607.52" cy="240.35" r="1.75"/><circle cx="610.22" cy="240.35" r="1.75"/><circle cx="612.92" cy="240.35" r="1.75"/><circle cx="615.62" cy="240.35" r="1.75"/><circle cx="618.32" cy="240.35" r="1.75"/><circle cx="621.02" cy="240.35" r="1.75"/><circle cx="623.72" cy="240.35" r="1.75"/><circle cx="626.42" cy="240.35" r="1.75"/><circle cx="629.12" cy="240.35" r="1.75"/><circle cx="631.81" cy="240.35" r="1.75"/><circle cx="634.51" cy="240.35" r="1.75"/><circle cx="637.21" cy="240.35" r="1.75"/><circle cx="639.91" cy="240.35" r="1.75"/><circle cx="642.61" cy="240.35" r="1.75"/><circle cx="645.31" cy="240.35" r="1.75"/><circle cx="648.01" cy="240.35" r="1.75"/><circle cx="650.71" cy="240.35" r="1.75"/><circle cx="653.41" cy="240.35" r="1.75"/><circle cx="656.11" cy="240.35" r="1.75"/><circle cx="658.80" cy="240.35" r="1.75"/><circle cx="661.50" cy="240.35" r="1.75"/><circle cx="664.20" cy="240.35" r="1.75"/><circle cx="666.90" cy="240.35" r="1.75"/><circle cx="669.60" cy="240.35" r="1.75"/></g>
<polyline points="402.40,116.37 405.10,172.04 407.80,202.71 410.50,219.61 413.20,228.92 415.89,234.05 418.59,236.88 421.29,238.44 423.99,239.30 426.69,239.77 429.39,240.03 432.09,240.17 434.79,240.25 437.49,240.30 440.19,240.32 442.88,240.33 445.58,240.34 448.28,240.35 450.98,240.35 453.68,240.35 456.38,240.35 459.08,240.35 461.78,240.35 464.48,240.35 467.18,240.35 469.88,240.35 472.57,240.35 475.27,240.35 477.97,240.35 480.67,240.35 483.37,240.35 486.07,240.35 488.77,240.35 491.47,240.35 494.17,240.35 496.86,240.35 499.56,240.35 502.26,240.35 504.96,240.35 507.66,240.35 510.36,240.35 513.06,240.35 515.76,240.35 518.46,240.35 521.16,240.35 523.86,240.35 526.55,240.35 529.25,240.35 531.95,240.35 534.65,240.35 537.35,240.35 540.05,240.35 542.75,240.35 545.45,240.35 548.15,240.35 550.85,240.35 553.54,240.35 556.24,240.35 558.94,240.35 561.64,240.35 564.34,240.35 567.04,240.35 569.74,240.35 572.44,240.35 575.14,240.35 577.84,240.35 580.53,240.35 583.23,240.35 585.93,240.35 588.63,240.35 591.33,240.35 594.03,240.35 596.73,240.35 599.43,240.35 602.13,240.35 604.82,240.35 607.52,240.35 610.22,240.35 612.92,240.35 615.62,240.35 618.32,240.35 621.02,240.35 623.72,240.35 626.42,240.35 629.12,240.35 631.81,240.35 634.51,240.35 637.21,240.35 639.91,240.35 642.61,240.35 645.31,240.35 648.01,240.35 650.71,240.35 653.41,240.35 656.11,240.35 658.80,240.35 661.50,240.35 664.20,240.35 666.90,240.35 669.60,240.35" fill="none" stroke="#ff7f0e" stroke-width="1.45" stroke-linejoin="round"/>
<g fill="#ff7f0e"><circle cx="402.40" cy="116.37" r="1.75"/><circle cx="405.10" cy="172.04" r="1.75"/><circle cx="407.80" cy="202.71" r="1.75"/><circle cx="410.50" cy="219.61" r="1.75"/><circle cx="413.20" cy="228.92" r="1.75"/><circle cx="415.89" cy="234.05" r="1.75"/><circle cx="418.59" cy="236.88" r="1.75"/><circle cx="421.29" cy="238.44" r="1.75"/><circle cx="423.99" cy="239.30" r="1.75"/><circle cx="426.69" cy="239.77" r="1.75"/><circle cx="429.39" cy="240.03" r="1.75"/><circle cx="432.09" cy="240.17" r="1.75"/><circle cx="434.79" cy="240.25" r="1.75"/><circle cx="437.49" cy="240.30" r="1.75"/><circle cx="440.19" cy="240.32" r="1.75"/><circle cx="442.88" cy="240.33" r="1.75"/><circle cx="445.58" cy="240.34" r="1.75"/><circle cx="448.28" cy="240.35" r="1.75"/><circle cx="450.98" cy="240.35" r="1.75"/><circle cx="453.68" cy="240.35" r="1.75"/><circle cx="456.38" cy="240.35" r="1.75"/><circle cx="459.08" cy="240.35" r="1.75"/><circle cx="461.78" cy="240.35" r="1.75"/><circle cx="464.48" cy="240.35" r="1.75"/><circle cx="467.18" cy="240.35" r="1.75"/><circle cx="469.88" cy="240.35" r="1.75"/><circle cx="472.57" cy="240.35" r="1.75"/><circle cx="475.27" cy="240.35" r="1.75"/><circle cx="477.97" cy="240.35" r="1.75"/><circle cx="480.67" cy="240.35" r="1.75"/><circle cx="483.37" cy="240.35" r="1.75"/><circle cx="486.07" cy="240.35" r="1.75"/><circle cx="488.77" cy="240.35" r="1.75"/><circle cx="491.47" cy="240.35" r="1.75"/><circle cx="494.17" cy="240.35" r="1.75"/><circle cx="496.86" cy="240.35" r="1.75"/><circle cx="499.56" cy="240.35" r="1.75"/><circle cx="502.26" cy="240.35" r="1.75"/><circle cx="504.96" cy="240.35" r="1.75"/><circle cx="507.66" cy="240.35" r="1.75"/><circle cx="510.36" cy="240.35" r="1.75"/><circle cx="513.06" cy="240.35" r="1.75"/><circle cx="515.76" cy="240.35" r="1.75"/><circle cx="518.46" cy="240.35" r="1.75"/><circle cx="521.16" cy="240.35" r="1.75"/><circle cx="523.86" cy="240.35" r="1.75"/><circle cx="526.55" cy="240.35" r="1.75"/><circle cx="529.25" cy="240.35" r="1.75"/><circle cx="531.95" cy="240.35" r="1.75"/><circle cx="534.65" cy="240.35" r="1.75"/><circle cx="537.35" cy="240.35" r="1.75"/><circle cx="540.05" cy="240.35" r="1.75"/><circle cx="542.75" cy="240.35" r="1.75"/><circle cx="545.45" cy="240.35" r="1.75"/><circle cx="548.15" cy="240.35" r="1.75"/><circle cx="550.85" cy="240.35" r="1.75"/><circle cx="553.54" cy="240.35" r="1.75"/><circle cx="556.24" cy="240.35" r="1.75"/><circle cx="558.94" cy="240.35" r="1.75"/><circle cx="561.64" cy="240.35" r="1.75"/><circle cx="564.34" cy="240.35" r="1.75"/><circle cx="567.04" cy="240.35" r="1.75"/><circle cx="569.74" cy="240.35" r="1.75"/><circle cx="572.44" cy="240.35" r="1.75"/><circle cx="575.14" cy="240.35" r="1.75"/><circle cx="577.84" cy="240.35" r="1.75"/><circle cx="580.53" cy="240.35" r="1.75"/><circle cx="583.23" cy="240.35" r="1.75"/><circle cx="585.93" cy="240.35" r="1.75"/><circle cx="588.63" cy="240.35" r="1.75"/><circle cx="591.33" cy="240.35" r="1.75"/><circle cx="594.03" cy="240.35" r="1.75"/><circle cx="596.73" cy="240.35" r="1.75"/><circle cx="599.43" cy="240.35" r="1.75"/><circle cx="602.13" cy="240.35" r="1.75"/><circle cx="604.82" cy="240.35" r="1.75"/><circle cx="607.52" cy="240.35" r="1.75"/><circle cx="610.22" cy="240.35" r="1.75"/><circle cx="612.92" cy="240.35" r="1.75"/><circle cx="615.62" cy="240.35" r="1.75"/><circle cx="618.32" cy="240.35" r="1.75"/><circle cx="621.02" cy="240.35" r="1.75"/><circle cx="623.72" cy="240.35" r="1.75"/><circle cx="626.42" cy="240.35" r="1.75"/><circle cx="629.12" cy="240.35" r="1.75"/><circle cx="631.81" cy="240.35" r="1.75"/><circle cx="634.51" cy="240.35" r="1.75"/><circle cx="637.21" cy="240.35" r="1.75"/><circle cx="639.91" cy="240.35" r="1.75"/><circle cx="642.61" cy="240.35" r="1.75"/><circle cx="645.31" cy="240.35" r="1.75"/><circle cx="648.01" cy="240.35" r="1.75"/><circle cx="650.71" cy="240.35" r="1.75"/><circle cx="653.41" cy="240.35" r="1.75"/><circle cx="656.11" cy="240.35" r="1.75"/><circle cx="658.80" cy="240.35" r="1.75"/><circle cx="661.50" cy="240.35" r="1.75"/><circle cx="664.20" cy="240.35" r="1.75"/><circle cx="666.90" cy="240.35" r="1.75"/><circle cx="669.60" cy="240.35" r="1.75"/></g>
<polyline points="402.40,63.08 405.10,100.68 407.80,130.30 410.50,153.65 413.20,172.04 415.89,186.53 418.59,197.94 421.29,206.94 423.99,214.03 426.69,219.61 429.39,224.01 432.09,227.47 434.79,230.21 437.49,232.36 440.19,234.05 442.88,235.39 445.58,236.44 448.28,237.27 450.98,237.92 453.68,238.44 456.38,238.84 459.08,239.16 461.78,239.41 464.48,239.61 467.18,239.77 469.88,239.89 472.57,239.99 475.27,240.07 477.97,240.13 480.67,240.17 483.37,240.21 486.07,240.24 488.77,240.26 491.47,240.28 494.17,240.30 496.86,240.31 499.56,240.32 502.26,240.32 504.96,240.33 507.66,240.33 510.36,240.34 513.06,240.34 515.76,240.34 518.46,240.34 521.16,240.35 523.86,240.35 526.55,240.35 529.25,240.35 531.95,240.35 534.65,240.35 537.35,240.35 540.05,240.35 542.75,240.35 545.45,240.35 548.15,240.35 550.85,240.35 553.54,240.35 556.24,240.35 558.94,240.35 561.64,240.35 564.34,240.35 567.04,240.35 569.74,240.35 572.44,240.35 575.14,240.35 577.84,240.35 580.53,240.35 583.23,240.35 585.93,240.35 588.63,240.35 591.33,240.35 594.03,240.35 596.73,240.35 599.43,240.35 602.13,240.35 604.82,240.35 607.52,240.35 610.22,240.35 612.92,240.35 615.62,240.35 618.32,240.35 621.02,240.35 623.72,240.35 626.42,240.35 629.12,240.35 631.81,240.35 634.51,240.35 637.21,240.35 639.91,240.35 642.61,240.35 645.31,240.35 648.01,240.35 650.71,240.35 653.41,240.35 656.11,240.35 658.80,240.35 661.50,240.35 664.20,240.35 666.90,240.35 669.60,240.35" fill="none" stroke="#2ca02c" stroke-width="1.45" stroke-linejoin="round"/>
<g fill="#2ca02c"><circle cx="402.40" cy="63.08" r="1.75"/><circle cx="405.10" cy="100.68" r="1.75"/><circle cx="407.80" cy="130.30" r="1.75"/><circle cx="410.50" cy="153.65" r="1.75"/><circle cx="413.20" cy="172.04" r="1.75"/><circle cx="415.89" cy="186.53" r="1.75"/><circle cx="418.59" cy="197.94" r="1.75"/><circle cx="421.29" cy="206.94" r="1.75"/><circle cx="423.99" cy="214.03" r="1.75"/><circle cx="426.69" cy="219.61" r="1.75"/><circle cx="429.39" cy="224.01" r="1.75"/><circle cx="432.09" cy="227.47" r="1.75"/><circle cx="434.79" cy="230.21" r="1.75"/><circle cx="437.49" cy="232.36" r="1.75"/><circle cx="440.19" cy="234.05" r="1.75"/><circle cx="442.88" cy="235.39" r="1.75"/><circle cx="445.58" cy="236.44" r="1.75"/><circle cx="448.28" cy="237.27" r="1.75"/><circle cx="450.98" cy="237.92" r="1.75"/><circle cx="453.68" cy="238.44" r="1.75"/><circle cx="456.38" cy="238.84" r="1.75"/><circle cx="459.08" cy="239.16" r="1.75"/><circle cx="461.78" cy="239.41" r="1.75"/><circle cx="464.48" cy="239.61" r="1.75"/><circle cx="467.18" cy="239.77" r="1.75"/><circle cx="469.88" cy="239.89" r="1.75"/><circle cx="472.57" cy="239.99" r="1.75"/><circle cx="475.27" cy="240.07" r="1.75"/><circle cx="477.97" cy="240.13" r="1.75"/><circle cx="480.67" cy="240.17" r="1.75"/><circle cx="483.37" cy="240.21" r="1.75"/><circle cx="486.07" cy="240.24" r="1.75"/><circle cx="488.77" cy="240.26" r="1.75"/><circle cx="491.47" cy="240.28" r="1.75"/><circle cx="494.17" cy="240.30" r="1.75"/><circle cx="496.86" cy="240.31" r="1.75"/><circle cx="499.56" cy="240.32" r="1.75"/><circle cx="502.26" cy="240.32" r="1.75"/><circle cx="504.96" cy="240.33" r="1.75"/><circle cx="507.66" cy="240.33" r="1.75"/><circle cx="510.36" cy="240.34" r="1.75"/><circle cx="513.06" cy="240.34" r="1.75"/><circle cx="515.76" cy="240.34" r="1.75"/><circle cx="518.46" cy="240.34" r="1.75"/><circle cx="521.16" cy="240.35" r="1.75"/><circle cx="523.86" cy="240.35" r="1.75"/><circle cx="526.55" cy="240.35" r="1.75"/><circle cx="529.25" cy="240.35" r="1.75"/><circle cx="531.95" cy="240.35" r="1.75"/><circle cx="534.65" cy="240.35" r="1.75"/><circle cx="537.35" cy="240.35" r="1.75"/><circle cx="540.05" cy="240.35" r="1.75"/><circle cx="542.75" cy="240.35" r="1.75"/><circle cx="545.45" cy="240.35" r="1.75"/><circle cx="548.15" cy="240.35" r="1.75"/><circle cx="550.85" cy="240.35" r="1.75"/><circle cx="553.54" cy="240.35" r="1.75"/><circle cx="556.24" cy="240.35" r="1.75"/><circle cx="558.94" cy="240.35" r="1.75"/><circle cx="561.64" cy="240.35" r="1.75"/><circle cx="564.34" cy="240.35" r="1.75"/><circle cx="567.04" cy="240.35" r="1.75"/><circle cx="569.74" cy="240.35" r="1.75"/><circle cx="572.44" cy="240.35" r="1.75"/><circle cx="575.14" cy="240.35" r="1.75"/><circle cx="577.84" cy="240.35" r="1.75"/><circle cx="580.53" cy="240.35" r="1.75"/><circle cx="583.23" cy="240.35" r="1.75"/><circle cx="585.93" cy="240.35" r="1.75"/><circle cx="588.63" cy="240.35" r="1.75"/><circle cx="591.33" cy="240.35" r="1.75"/><circle cx="594.03" cy="240.35" r="1.75"/><circle cx="596.73" cy="240.35" r="1.75"/><circle cx="599.43" cy="240.35" r="1.75"/><circle cx="602.13" cy="240.35" r="1.75"/><circle cx="604.82" cy="240.35" r="1.75"/><circle cx="607.52" cy="240.35" r="1.75"/><circle cx="610.22" cy="240.35" r="1.75"/><circle cx="612.92" cy="240.35" r="1.75"/><circle cx="615.62" cy="240.35" r="1.75"/><circle cx="618.32" cy="240.35" r="1.75"/><circle cx="621.02" cy="240.35" r="1.75"/><circle cx="623.72" cy="240.35" r="1.75"/><circle cx="626.42" cy="240.35" r="1.75"/><circle cx="629.12" cy="240.35" r="1.75"/><circle cx="631.81" cy="240.35" r="1.75"/><circle cx="634.51" cy="240.35" r="1.75"/><circle cx="637.21" cy="240.35" r="1.75"/><circle cx="639.91" cy="240.35" r="1.75"/><circle cx="642.61" cy="240.35" r="1.75"/><circle cx="645.31" cy="240.35" r="1.75"/><circle cx="648.01" cy="240.35" r="1.75"/><circle cx="650.71" cy="240.35" r="1.75"/><circle cx="653.41" cy="240.35" r="1.75"/><circle cx="656.11" cy="240.35" r="1.75"/><circle cx="658.80" cy="240.35" r="1.75"/><circle cx="661.50" cy="240.35" r="1.75"/><circle cx="664.20" cy="240.35" r="1.75"/><circle cx="666.90" cy="240.35" r="1.75"/><circle cx="669.60" cy="240.35" r="1.75"/></g>
<polyline points="402.40,40.63 405.10,63.08 407.80,83.00 410.50,100.68 413.20,116.37 415.89,130.30 418.59,142.67 421.29,153.65 423.99,163.39 426.69,172.04 429.39,179.71 432.09,186.53 434.79,192.58 437.49,197.94 440.19,202.71 442.88,206.94 445.58,210.69 448.28,214.03 450.98,216.98 453.68,219.61 456.38,221.94 459.08,224.01 461.78,225.84 464.48,227.47 467.18,228.92 469.88,230.21 472.57,231.35 475.27,232.36 477.97,233.26 480.67,234.05 483.37,234.76 486.07,235.39 488.77,235.95 491.47,236.44 494.17,236.88 496.86,237.27 499.56,237.62 502.26,237.92 504.96,238.20 507.66,238.44 510.36,238.65 513.06,238.84 515.76,239.01 518.46,239.16 521.16,239.30 523.86,239.41 526.55,239.52 529.25,239.61 531.95,239.70 534.65,239.77 537.35,239.83 540.05,239.89 542.75,239.94 545.45,239.99 548.15,240.03 550.85,240.07 553.54,240.10 556.24,240.13 558.94,240.15 561.64,240.17 564.34,240.19 567.04,240.21 569.74,240.23 572.44,240.24 575.14,240.25 577.84,240.26 580.53,240.27 583.23,240.28 585.93,240.29 588.63,240.30 591.33,240.30 594.03,240.31 596.73,240.31 599.43,240.32 602.13,240.32 604.82,240.32 607.52,240.33 610.22,240.33 612.92,240.33 615.62,240.33 618.32,240.34 621.02,240.34 623.72,240.34 626.42,240.34 629.12,240.34 631.81,240.34 634.51,240.34 637.21,240.34 639.91,240.34 642.61,240.35 645.31,240.35 648.01,240.35 650.71,240.35 653.41,240.35 656.11,240.35 658.80,240.35 661.50,240.35 664.20,240.35 666.90,240.35 669.60,240.35" fill="none" stroke="#d62728" stroke-width="1.45" stroke-linejoin="round"/>
<g fill="#d62728"><circle cx="402.40" cy="40.63" r="1.75"/><circle cx="405.10" cy="63.08" r="1.75"/><circle cx="407.80" cy="83.00" r="1.75"/><circle cx="410.50" cy="100.68" r="1.75"/><circle cx="413.20" cy="116.37" r="1.75"/><circle cx="415.89" cy="130.30" r="1.75"/><circle cx="418.59" cy="142.67" r="1.75"/><circle cx="421.29" cy="153.65" r="1.75"/><circle cx="423.99" cy="163.39" r="1.75"/><circle cx="426.69" cy="172.04" r="1.75"/><circle cx="429.39" cy="179.71" r="1.75"/><circle cx="432.09" cy="186.53" r="1.75"/><circle cx="434.79" cy="192.58" r="1.75"/><circle cx="437.49" cy="197.94" r="1.75"/><circle cx="440.19" cy="202.71" r="1.75"/><circle cx="442.88" cy="206.94" r="1.75"/><circle cx="445.58" cy="210.69" r="1.75"/><circle cx="448.28" cy="214.03" r="1.75"/><circle cx="450.98" cy="216.98" r="1.75"/><circle cx="453.68" cy="219.61" r="1.75"/><circle cx="456.38" cy="221.94" r="1.75"/><circle cx="459.08" cy="224.01" r="1.75"/><circle cx="461.78" cy="225.84" r="1.75"/><circle cx="464.48" cy="227.47" r="1.75"/><circle cx="467.18" cy="228.92" r="1.75"/><circle cx="469.88" cy="230.21" r="1.75"/><circle cx="472.57" cy="231.35" r="1.75"/><circle cx="475.27" cy="232.36" r="1.75"/><circle cx="477.97" cy="233.26" r="1.75"/><circle cx="480.67" cy="234.05" r="1.75"/><circle cx="483.37" cy="234.76" r="1.75"/><circle cx="486.07" cy="235.39" r="1.75"/><circle cx="488.77" cy="235.95" r="1.75"/><circle cx="491.47" cy="236.44" r="1.75"/><circle cx="494.17" cy="236.88" r="1.75"/><circle cx="496.86" cy="237.27" r="1.75"/><circle cx="499.56" cy="237.62" r="1.75"/><circle cx="502.26" cy="237.92" r="1.75"/><circle cx="504.96" cy="238.20" r="1.75"/><circle cx="507.66" cy="238.44" r="1.75"/><circle cx="510.36" cy="238.65" r="1.75"/><circle cx="513.06" cy="238.84" r="1.75"/><circle cx="515.76" cy="239.01" r="1.75"/><circle cx="518.46" cy="239.16" r="1.75"/><circle cx="521.16" cy="239.30" r="1.75"/><circle cx="523.86" cy="239.41" r="1.75"/><circle cx="526.55" cy="239.52" r="1.75"/><circle cx="529.25" cy="239.61" r="1.75"/><circle cx="531.95" cy="239.70" r="1.75"/><circle cx="534.65" cy="239.77" r="1.75"/><circle cx="537.35" cy="239.83" r="1.75"/><circle cx="540.05" cy="239.89" r="1.75"/><circle cx="542.75" cy="239.94" r="1.75"/><circle cx="545.45" cy="239.99" r="1.75"/><circle cx="548.15" cy="240.03" r="1.75"/><circle cx="550.85" cy="240.07" r="1.75"/><circle cx="553.54" cy="240.10" r="1.75"/><circle cx="556.24" cy="240.13" r="1.75"/><circle cx="558.94" cy="240.15" r="1.75"/><circle cx="561.64" cy="240.17" r="1.75"/><circle cx="564.34" cy="240.19" r="1.75"/><circle cx="567.04" cy="240.21" r="1.75"/><circle cx="569.74" cy="240.23" r="1.75"/><circle cx="572.44" cy="240.24" r="1.75"/><circle cx="575.14" cy="240.25" r="1.75"/><circle cx="577.84" cy="240.26" r="1.75"/><circle cx="580.53" cy="240.27" r="1.75"/><circle cx="583.23" cy="240.28" r="1.75"/><circle cx="585.93" cy="240.29" r="1.75"/><circle cx="588.63" cy="240.30" r="1.75"/><circle cx="591.33" cy="240.30" r="1.75"/><circle cx="594.03" cy="240.31" r="1.75"/><circle cx="596.73" cy="240.31" r="1.75"/><circle cx="599.43" cy="240.32" r="1.75"/><circle cx="602.13" cy="240.32" r="1.75"/><circle cx="604.82" cy="240.32" r="1.75"/><circle cx="607.52" cy="240.33" r="1.75"/><circle cx="610.22" cy="240.33" r="1.75"/><circle cx="612.92" cy="240.33" r="1.75"/><circle cx="615.62" cy="240.33" r="1.75"/><circle cx="618.32" cy="240.34" r="1.75"/><circle cx="621.02" cy="240.34" r="1.75"/><circle cx="623.72" cy="240.34" r="1.75"/><circle cx="626.42" cy="240.34" r="1.75"/><circle cx="629.12" cy="240.34" r="1.75"/><circle cx="631.81" cy="240.34" r="1.75"/><circle cx="634.51" cy="240.34" r="1.75"/><circle cx="637.21" cy="240.34" r="1.75"/><circle cx="639.91" cy="240.34" r="1.75"/><circle cx="642.61" cy="240.35" r="1.75"/><circle cx="645.31" cy="240.35" r="1.75"/><circle cx="648.01" cy="240.35" r="1.75"/><circle cx="650.71" cy="240.35" r="1.75"/><circle cx="653.41" cy="240.35" r="1.75"/><circle cx="656.11" cy="240.35" r="1.75"/><circle cx="658.80" cy="240.35" r="1.75"/><circle cx="661.50" cy="240.35" r="1.75"/><circle cx="664.20" cy="240.35" r="1.75"/><circle cx="666.90" cy="240.35" r="1.75"/><circle cx="669.60" cy="240.35" r="1.75"/></g>
<rect x="389.00" y="31.00" width="294.40" height="219.00" fill="none" stroke="#000" stroke-width="0.60"/>
<line x1="402.50" y1="250.00" x2="402.50" y2="253.00" stroke="#000" stroke-width="0.65"/>
<text transform="translate(402.40,262.60) rotate(0.3) scale(1.000,1.040)" text-anchor="middle" class="tk">0</text>
<line x1="456.50" y1="250.00" x2="456.50" y2="253.00" stroke="#000" stroke-width="0.65"/>
<text transform="translate(456.38,262.60) rotate(0.3) scale(1.000,1.040)" text-anchor="middle" class="tk">20</text>
<line x1="510.50" y1="250.00" x2="510.50" y2="253.00" stroke="#000" stroke-width="0.65"/>
<text transform="translate(510.36,262.60) rotate(0.3) scale(1.000,1.040)" text-anchor="middle" class="tk">40</text>
<line x1="564.50" y1="250.00" x2="564.50" y2="253.00" stroke="#000" stroke-width="0.65"/>
<text transform="translate(564.34,262.60) rotate(0.3) scale(1.000,1.040)" text-anchor="middle" class="tk">60</text>
<line x1="618.50" y1="250.00" x2="618.50" y2="253.00" stroke="#000" stroke-width="0.65"/>
<text transform="translate(618.32,262.60) rotate(0.3) scale(1.000,1.040)" text-anchor="middle" class="tk">80</text>
<line x1="672.50" y1="250.00" x2="672.50" y2="253.00" stroke="#000" stroke-width="0.65"/>
<text transform="translate(672.30,262.60) rotate(0.3) scale(1.000,1.040)" text-anchor="middle" class="tk">100</text>
<line x1="386.00" y1="240.50" x2="389.00" y2="240.50" stroke="#000" stroke-width="0.65"/>
<text transform="translate(383.00,243.65) rotate(0.3) scale(1.000,1.040)" text-anchor="end" class="tk">0.0</text>
<line x1="386.00" y1="195.50" x2="389.00" y2="195.50" stroke="#000" stroke-width="0.65"/>
<text transform="translate(383.00,198.65) rotate(0.3) scale(1.000,1.040)" text-anchor="end" class="tk">0.2</text>
<line x1="386.00" y1="150.50" x2="389.00" y2="150.50" stroke="#000" stroke-width="0.65"/>
<text transform="translate(383.00,153.65) rotate(0.3) scale(1.000,1.040)" text-anchor="end" class="tk">0.4</text>
<line x1="386.00" y1="105.50" x2="389.00" y2="105.50" stroke="#000" stroke-width="0.65"/>
<text transform="translate(383.00,108.65) rotate(0.3) scale(1.000,1.040)" text-anchor="end" class="tk">0.6</text>
<line x1="386.00" y1="60.50" x2="389.00" y2="60.50" stroke="#000" stroke-width="0.65"/>
<text transform="translate(383.00,63.65) rotate(0.3) scale(1.000,1.040)" text-anchor="end" class="tk">0.8</text>
<rect x="591.50" y="35.80" width="87.10" height="62.30" rx="2" ry="2" fill="#fff" fill-opacity="0.8" stroke="#d6d6d6" stroke-width="0.9"/>
<line x1="594.50" y1="43.10" x2="615.70" y2="43.10" stroke="#1f77b4" stroke-width="1.45"/>
<circle cx="605.20" cy="43.10" r="1.75" fill="#1f77b4"/>
<text transform="translate(622.90,46.70) rotate(0.3)" class="eps">&#949;</text>
<text transform="translate(628.10,48.40) rotate(0.3)" class="sub" textLength="21.3" lengthAdjust="spacingAndGlyphs">decay</text>
<text transform="translate(649.40,46.70) rotate(0.3)" class="lg">=500</text>
<line x1="594.50" y1="58.00" x2="615.70" y2="58.00" stroke="#ff7f0e" stroke-width="1.45"/>
<circle cx="605.20" cy="58.00" r="1.75" fill="#ff7f0e"/>
<text transform="translate(622.90,61.60) rotate(0.3)" class="eps">&#949;</text>
<text transform="translate(628.10,63.30) rotate(0.3)" class="sub" textLength="21.3" lengthAdjust="spacingAndGlyphs">decay</text>
<text transform="translate(649.40,61.60) rotate(0.3)" class="lg">=1000</text>
<line x1="594.50" y1="72.90" x2="615.70" y2="72.90" stroke="#2ca02c" stroke-width="1.45"/>
<circle cx="605.20" cy="72.90" r="1.75" fill="#2ca02c"/>
<text transform="translate(622.90,76.50) rotate(0.3)" class="eps">&#949;</text>
<text transform="translate(628.10,78.20) rotate(0.3)" class="sub" textLength="21.3" lengthAdjust="spacingAndGlyphs">decay</text>
<text transform="translate(649.40,76.50) rotate(0.3)" class="lg">=2500</text>
<line x1="594.50" y1="87.80" x2="615.70" y2="87.80" stroke="#d62728" stroke-width="1.45"/>
<circle cx="605.20" cy="87.80" r="1.75" fill="#d62728"/>
<text transform="translate(622.90,91.40) rotate(0.3)" class="eps">&#949;</text>
<text transform="translate(628.10,93.10) rotate(0.3)" class="sub" textLength="21.3" lengthAdjust="spacingAndGlyphs">decay</text>
<text transform="translate(649.40,91.40) rotate(0.3)" class="lg">=5000</text>
<text transform="translate(370.9,10.8) rotate(0.3)" class="ttl" text-anchor="middle">(b)</text>
<text transform="translate(536.2,273.9) rotate(0.3)" class="lab" text-anchor="middle">Episode</text>
<text transform="translate(364.3,140.4) rotate(-89.7)" class="epsl" text-anchor="middle">&#949;</text>
</svg>
</body></html>
